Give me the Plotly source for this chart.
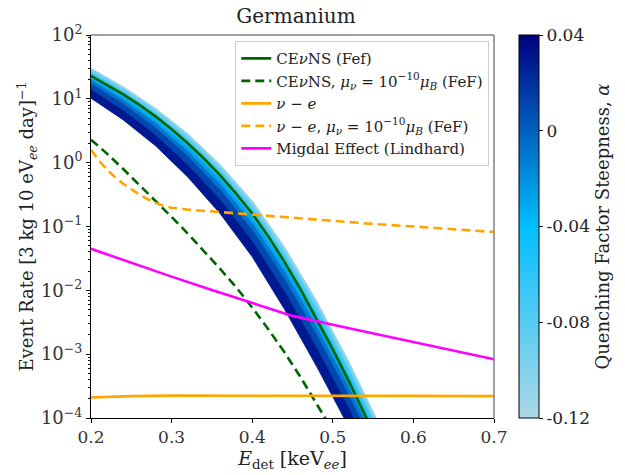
import numpy as np
import plotly.graph_objects as go
from plotly.colors import sample_colorscale

FONT = "DejaVu Serif"

# ---------------- data ----------------
# CEvNS (Fef) – log10 of event rate
E_cevns = [0.20, 0.22, 0.24, 0.26, 0.28, 0.30, 0.32, 0.34, 0.36, 0.38, 0.40,
           0.42, 0.44, 0.46, 0.48, 0.50, 0.52, 0.54, 0.56]
log_cevns = [1.36, 1.22, 1.07, 0.905, 0.725, 0.525, 0.305, 0.065, -0.195, -0.485,
             -0.795, -1.155, -1.555, -1.985, -2.445, -2.925, -3.425, -3.945, -4.485]

# CEvNS with magnetic moment
E_cevns_mu = [0.20, 0.22, 0.24, 0.26, 0.28, 0.30, 0.32, 0.34, 0.36, 0.38, 0.40,
              0.42, 0.44, 0.46, 0.48, 0.50]
log_cevns_mu = [0.36, 0.14, -0.10, -0.345, -0.595, -0.85, -1.11, -1.38, -1.66,
                -1.95, -2.27, -2.61, -2.97, -3.36, -3.77, -4.2]

# nu - e
E_nue = [0.20, 0.25, 0.30, 0.40, 0.50, 0.60, 0.70]
rate_nue = [2.10e-4, 2.20e-4, 2.24e-4, 2.25e-4, 2.24e-4, 2.22e-4, 2.20e-4]

# nu - e with magnetic moment
E_nue_mu = [0.20, 0.21, 0.22, 0.23, 0.24, 0.25, 0.26, 0.27, 0.28, 0.29, 0.30,
            0.32, 0.35, 0.40, 0.45, 0.50, 0.55, 0.60, 0.65, 0.70]
log_nue_mu = [0.20, 0.03, -0.11, -0.23, -0.33, -0.42, -0.50, -0.57, -0.63, -0.675,
              -0.705, -0.735, -0.765, -0.81, -0.865, -0.915, -0.96, -1.0, -1.045, -1.086]

# Migdal effect
E_migdal = [0.20, 0.25, 0.30, 0.35, 0.40, 0.45, 0.50, 0.55, 0.60, 0.65, 0.70]
log_migdal = [-1.35, -1.57, -1.785, -1.995, -2.2, -2.4, -2.54, -2.675, -2.81, -2.94, -3.08]

# quenching-factor band: log10 rate for several steepness values alpha
E_band = [0.20, 0.24, 0.28, 0.32, 0.36, 0.40, 0.44, 0.48, 0.52, 0.56]
band_alpha = [-0.12, -0.10, -0.08, -0.06, -0.04, -0.02, 0.00, 0.02, 0.04]
band_m012 = [1.480, 1.190, 0.855, 0.455, -0.025, -0.595, -1.315, -2.165, -3.115, -4.155]
band_m010 = [1.452, 1.159, 0.820, 0.414, -0.071, -0.648, -1.374, -2.227, -3.177, -4.217]
band_m008 = [1.419, 1.122, 0.778, 0.367, -0.125, -0.709, -1.442, -2.299, -3.249, -4.289]
band_m006 = [1.381, 1.081, 0.731, 0.312, -0.187, -0.780, -1.521, -2.381, -3.331, -4.371]
band_m004 = [1.339, 1.034, 0.678, 0.251, -0.256, -0.859, -1.609, -2.474, -3.424, -4.464]
band_m002 = [1.292, 0.982, 0.619, 0.183, -0.333, -0.947, -1.707, -2.577, -3.527, -4.567]
band_p000 = [1.236, 0.920, 0.548, 0.101, -0.425, -1.053, -1.825, -2.701, -3.651, -4.691]
band_p002 = [1.142, 0.816, 0.430, -0.035, -0.579, -1.229, -2.021, -2.907, -3.857, -4.897]
band_p004 = [1.010, 0.670, 0.265, -0.225, -0.795, -1.475, -2.295, -3.195, -4.145, -5.185]
band_curves = [band_m012, band_m010, band_m008, band_m006, band_m004,
               band_m002, band_p000, band_p002, band_p004]

x_ticks = [0.2, 0.3, 0.4, 0.5, 0.6, 0.7]
x_ticktext = ["0.2", "0.3", "0.4", "0.5", "0.6", "0.7"]
y_ticks = [1e-4, 1e-3, 1e-2, 1e-1, 1e0, 1e1, 1e2]
y_ticktext = ["10<sup>−4</sup>", "10<sup>−3</sup>", "10<sup>−2</sup>", "10<sup>−1</sup>",
              "10<sup>0</sup>", "10<sup>1</sup>", "10<sup>2</sup>"]
y_minor = [k * 10.0 ** d for d in range(-4, 2) for k in range(2, 10)]
cb_ticks = [-0.12, -0.08, -0.04, 0.0, 0.04]
cb_ticktext = ["-0.12", "-0.08", "-0.04", "0", "0.04"]

# ---------------- figure ----------------
CSCALE = [[0.0, "#add8e6"], [0.5, "#00bfff"], [1.0, "#000080"]]
AMIN, AMAX = -0.12, 0.04

fig = go.Figure()

Eb = list(E_band)
for i in range(len(band_curves) - 1):
    a_mid = 0.5 * (band_alpha[i] + band_alpha[i + 1])
    col = sample_colorscale(CSCALE, [(a_mid - AMIN) / (AMAX - AMIN)])[0]
    up = list(10 ** np.array(band_curves[i]))
    lo = list(10 ** np.array(band_curves[i + 1]))
    fig.add_trace(go.Scatter(
        x=Eb + Eb[::-1], y=up + lo[::-1], mode="lines", fill="toself",
        fillcolor=col, line=dict(color=col, width=0.8),
        showlegend=False, hoverinfo="skip"))

fig.add_trace(go.Scatter(
    x=E_cevns, y=10 ** np.array(log_cevns), mode="lines",
    line=dict(color="#006400", width=2.6),
    name="CE<i>ν</i>NS (Fef)"))
fig.add_trace(go.Scatter(
    x=E_cevns_mu, y=10 ** np.array(log_cevns_mu), mode="lines",
    line=dict(color="#006400", width=2.6, dash="9px,5px"),
    name="CE<i>ν</i>NS, <i>μ<sub>ν</sub></i> = 10<sup>−10</sup><i>μ<sub>B</sub></i> (FeF)"))
fig.add_trace(go.Scatter(
    x=E_nue, y=rate_nue, mode="lines",
    line=dict(color="#FFA500", width=2.6),
    name="<i>ν</i> − <i>e</i>"))
fig.add_trace(go.Scatter(
    x=E_nue_mu, y=10 ** np.array(log_nue_mu), mode="lines",
    line=dict(color="#FFA500", width=2.6, dash="9px,5px"),
    name="<i>ν</i> − <i>e</i>, <i>μ<sub>ν</sub></i> = 10<sup>−10</sup><i>μ<sub>B</sub></i> (FeF)"))
fig.add_trace(go.Scatter(
    x=E_migdal, y=10 ** np.array(log_migdal), mode="lines",
    line=dict(color="#FF00FF", width=2.6),
    name="Migdal Effect (Lindhard)"))

# colorbar carrier
fig.add_trace(go.Scatter(
    x=[0.3], y=[1e-9], mode="markers", showlegend=False, hoverinfo="skip",
    marker=dict(size=1, opacity=0, color=[0], colorscale=CSCALE, cmin=AMIN, cmax=AMAX,
                showscale=True,
                colorbar=dict(thickness=20, thicknessmode="pixels", len=1, lenmode="fraction",
                              x=1.0608, xanchor="left", xpad=0, y=0.5, yanchor="middle", ypad=0,
                              outlinewidth=1, outlinecolor="black",
                              tickvals=cb_ticks, ticktext=cb_ticktext, ticks="outside",
                              ticklen=4, tickcolor="black",
                              tickfont=dict(family=FONT, size=17, color="#222222"),
                              title=dict(text="Quenching Factor Steepness, <i>α</i>", side="right",
                                         font=dict(family=FONT, size=18, color="#222222"))))))

fig.update_layout(
    width=625, height=475,
    margin=dict(l=91, r=123, t=35, b=57),
    paper_bgcolor="white", plot_bgcolor="white",
    font=dict(family=FONT, color="black"),
    title=dict(text="Germanium", x=(296) / 625, xanchor="center", y=1 - 16 / 475, yanchor="middle",
               font=dict(family=FONT, size=20, color="#222222")),
    legend=dict(x=0.358, y=0.984, xanchor="left", yanchor="top",
                bgcolor="rgba(255,255,255,0.85)", bordercolor="#cccccc", borderwidth=1,
                font=dict(family=FONT, size=15, color="#222222"), tracegroupgap=0),
    xaxis=dict(range=[0.2, 0.7], tickvals=x_ticks, ticktext=x_ticktext, ticks="outside",
               ticklen=4, tickcolor="black", showline=True, linecolor="black", linewidth=1,
               showgrid=False, zeroline=False,
               tickfont=dict(family=FONT, size=17, color="#333333"),
               title=dict(text="<i>E</i><sub>det</sub> [keV<sub><i>ee</i></sub>]",
                          font=dict(family=FONT, size=19, color="#222222"), standoff=2)),
    yaxis=dict(type="log", range=[-4, 2], tickvals=y_ticks, ticktext=y_ticktext, ticks="outside",
               ticklen=4, tickcolor="black", showline=True, linecolor="black", linewidth=1,
               showgrid=False, zeroline=False,
               minor=dict(tickmode="array", tickvals=y_minor, ticks="outside", ticklen=2,
                          tickcolor="black", showgrid=False),
               tickfont=dict(family=FONT, size=18, color="#333333"),
               title=dict(text="Event Rate [3 kg 10 eV<sub><i>ee</i></sub> day]<sup>−1</sup>",
                          font=dict(family=FONT, size=18, color="#222222"), standoff=2)),
    shapes=[dict(type="line", xref="paper", yref="paper", x0=0, x1=1, y0=1, y1=1,
                 line=dict(color="#808080", width=1.5)),
            dict(type="line", xref="paper", yref="paper", x0=1, x1=1, y0=0, y1=1,
                 line=dict(color="#808080", width=1.5))],
)

fig.write_html("out.html")
